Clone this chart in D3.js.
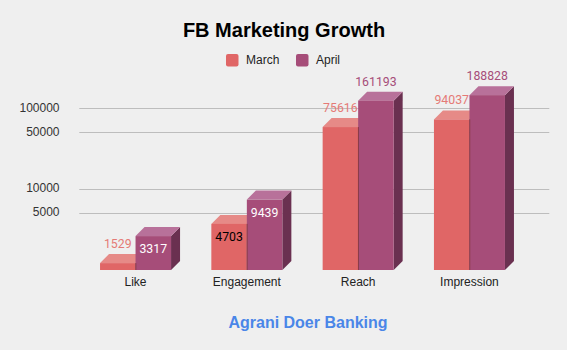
<!DOCTYPE html>
<html>
<head>
<meta charset="utf-8">
<script src="https://cdn.jsdelivr.net/npm/d3@7"></script>
<style>
  html, body { margin: 0; padding: 0; background: #efefef; }
  svg { display: block; }
</style>
</head>
<body>
<script>
const categories = ["Like", "Engagement", "Reach", "Impression"];
const seriesNames = ["March", "April"];
const marchValues = [1529, 4703, 75616, 94037];
const aprilValues = [3317, 9439, 161193, 188828];
const yTickValues = [5000, 10000, 50000, 100000];
// which data labels sit inside the bar (style choice)
const marchLabelInside = [false, true, false, false];
const aprilLabelInside = [true, true, false, false];

const W = 567, H = 350;
const svg = d3.select("body").append("svg").attr("width", W).attr("height", H);
svg.append("rect").attr("width", W).attr("height", H).attr("fill", "#efefef");

const depthX = 9, depthY = 9;
const frontBottom = 270;
const backBottom = frontBottom - depthY;

const y = d3.scaleLog().domain([1000, 100000]).range([268.9, 108.3]);
const x = d3.scaleBand().domain(categories).range([80, 525]).paddingInner(0.362).paddingOuter(0.18);
const xs = d3.scaleBand().domain(seriesNames).range([0, x.bandwidth()]);

const styles = {
  March: { front: "#e06666", top: "#e68a87", side: "#a44848", label: "#e57a76", inside: "#000000" },
  April: { front: "#a64d79", top: "#b8719a", side: "#6a3050", label: "#a64d79", inside: "#ffffff" }
};

// title
svg.append("text").attr("x", 284).attr("y", 37).attr("text-anchor", "middle")
  .attr("font-family", "Liberation Sans, Arial, sans-serif").attr("font-weight", "bold")
  .attr("font-size", 20).attr("fill", "#000").text("FB Marketing Growth");

// legend
const legendItems = [{ name: "March", x: 226 }, { name: "April", x: 296 }];
legendItems.forEach(li => {
  svg.append("rect").attr("x", li.x).attr("y", 54).attr("width", 12.5).attr("height", 12.5)
    .attr("rx", 2).attr("fill", styles[li.name].front);
  svg.append("text").attr("x", li.x + 20).attr("y", 64).attr("font-family", "Liberation Sans, Arial, sans-serif")
    .attr("font-size", 12).attr("fill", "#222").text(li.name);
});

// gridlines + y tick labels
const grid = svg.append("g");
yTickValues.forEach(t => {
  const yy = Math.round(y(t)) + 0.5;
  grid.append("line").attr("x1", 79.3).attr("x2", 549.3).attr("y1", yy).attr("y2", yy)
    .attr("stroke", "#bdbdbd").attr("stroke-width", 1);
  grid.append("text").attr("x", 59.5).attr("y", y(t) + 3.6).attr("text-anchor", "end")
    .attr("font-family", "Liberation Sans, Arial, sans-serif").attr("font-size", 12)
    .attr("fill", "#333").text(t);
});

// bars
const bars = svg.append("g");
const labels = svg.append("g");
const seriesData = { March: marchValues, April: aprilValues };
const insideFlags = { March: marchLabelInside, April: aprilLabelInside };

categories.forEach((cat, ci) => {
  seriesNames.forEach((s, si) => {
    const v = seriesData[s][ci];
    const st = styles[s];
    const fx = x(cat) + xs(s);
    const w = xs.bandwidth();
    const backTop = y(v);
    const ft = backTop + depthY;
    const fb = frontBottom;
    // side
    bars.append("path").attr("d", `M${fx + w},${ft} L${fx + w + depthX},${ft - depthY} L${fx + w + depthX},${fb - depthY} L${fx + w},${fb} Z`)
      .attr("fill", st.side);
    // top
    bars.append("path").attr("d", `M${fx},${ft} L${fx + depthX},${ft - depthY} L${fx + w + depthX},${ft - depthY} L${fx + w},${ft} Z`)
      .attr("fill", st.top);
    // front
    bars.append("rect").attr("x", fx).attr("y", ft).attr("width", w).attr("height", fb - ft).attr("fill", st.front);
    if (si === 1) {
      bars.append("line").attr("x1", fx + 0.3).attr("x2", fx + 0.3).attr("y1", Math.max(ft, y(seriesData.March[ci]) + depthY)).attr("y2", fb)
        .attr("stroke", "#8a3c48").attr("stroke-width", 1);
    }
    const inside = insideFlags[s][ci];
    labels.append("text").attr("x", fx + w / 2).attr("y", inside ? ft + 17 : backTop - 6)
      .attr("text-anchor", "middle").attr("font-family", "Roboto, sans-serif").attr("font-size", 12.3)
      .attr("fill", inside ? st.inside : st.label).text(v);
  });
});

// x axis labels
categories.forEach(cat => {
  svg.append("text").attr("x", x(cat) + x.bandwidth() / 2).attr("y", 286).attr("text-anchor", "middle")
    .attr("font-family", "Liberation Sans, Arial, sans-serif").attr("font-size", 12).attr("fill", "#222").text(cat);
});

// axis title
svg.append("text").attr("x", 308).attr("y", 328).attr("text-anchor", "middle")
  .attr("font-family", "Liberation Sans, Arial, sans-serif").attr("font-weight", "bold")
  .attr("font-size", 16).attr("fill", "#4a86e8").text("Agrani Doer Banking");
</script>
</body>
</html>
